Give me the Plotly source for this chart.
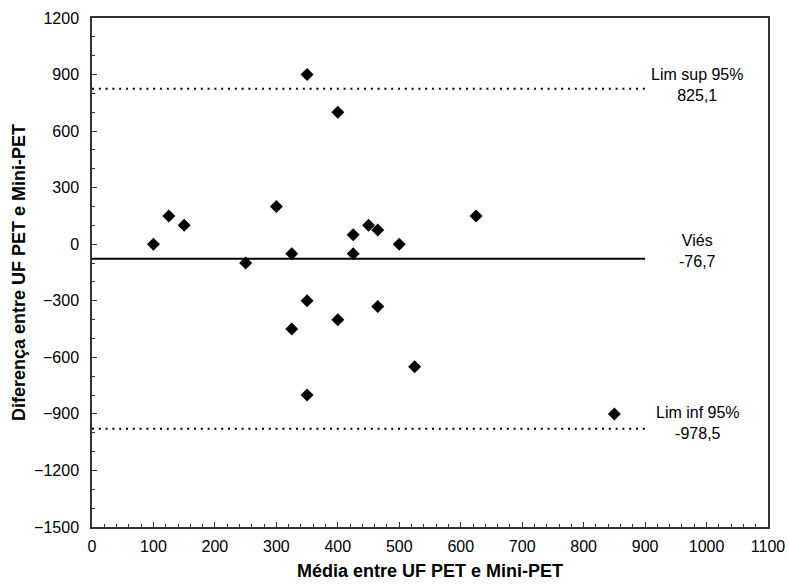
import plotly.graph_objects as go

media = [100, 125, 150, 250, 300, 325, 325, 350, 350, 350, 400, 400, 425, 425, 450, 465, 465, 500, 525, 625, 850]
diferenca = [0, 150, 100, -100, 200, -50, -450, 900, -300, -800, 700, -400, 50, -50, 100, 75, -330, 0, -650, 150, -900]

vies = -76.7
lim_sup = 825.1
lim_inf = -978.5
line_x = [0, 900]

font_family = "Liberation Sans, Arial, sans-serif"

fig = go.Figure()
fig.add_trace(go.Scatter(x=line_x, y=[lim_sup, lim_sup], mode="lines",
                         line=dict(color="black", width=2, dash="2px,4.8px"), hoverinfo="skip"))
fig.add_trace(go.Scatter(x=line_x, y=[lim_inf, lim_inf], mode="lines",
                         line=dict(color="black", width=2, dash="2px,4.8px"), hoverinfo="skip"))
fig.add_trace(go.Scatter(x=line_x, y=[vies, vies], mode="lines",
                         line=dict(color="black", width=2), hoverinfo="skip"))
fig.add_trace(go.Scatter(x=media, y=diferenca, mode="markers",
                         marker=dict(symbol="diamond", size=10, color="black")))

labels = [("Lim sup 95%<br>825,1", lim_sup, 4),
          ("Viés<br>-76,7", vies, 8),
          ("Lim inf 95%<br>-978,5", lim_inf, 6)]
for txt, yv, ys in labels:
    fig.add_annotation(x=986, y=yv, text=txt, showarrow=False, xanchor="center",
                       yanchor="middle", yshift=ys,
                       font=dict(family=font_family, size=16, color="black"))

fig.update_layout(
    width=789, height=585,
    margin=dict(l=92, r=21, t=18, b=58),
    paper_bgcolor="white", plot_bgcolor="white",
    showlegend=False,
    font=dict(family=font_family, size=16, color="black"),
)
fig.update_xaxes(range=[0, 1100], tick0=0, dtick=100, ticks="inside", ticklen=5,
                 tickcolor="#333", showgrid=False, zeroline=False, automargin=False,
                 showline=True, linecolor="#333", linewidth=1.5, mirror=True,
                 minor=dict(dtick=20, ticks="inside", ticklen=3, tickcolor="#333"),
                 ticklabelstandoff=4,
                 title=dict(text="<b>Média entre UF PET e Mini-PET</b>", font=dict(size=18), standoff=10))
fig.update_yaxes(range=[-1500, 1200], tick0=0, dtick=300, ticks="inside", ticklen=5,
                 tickcolor="#333", showgrid=False, zeroline=False, automargin=False,
                 showline=True, linecolor="#333", linewidth=1.5, mirror=True,
                 minor=dict(dtick=100, ticks="inside", ticklen=3, tickcolor="#333"),
                 ticklabelstandoff=8,
                 title=dict(text="<b>Diferença entre UF PET e Mini-PET</b>", font=dict(size=18), standoff=4))

fig.write_html("out.html")
